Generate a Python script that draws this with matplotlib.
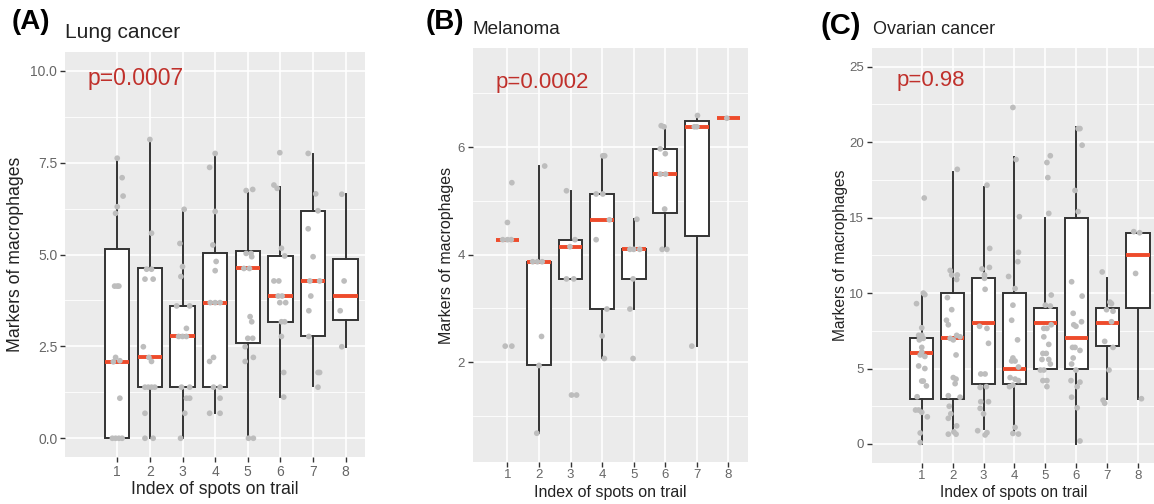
import numpy as np
import matplotlib
matplotlib.use("Agg")
import matplotlib.pyplot as plt
from matplotlib.ticker import FixedLocator

plt.rcParams['font.family'] = ['Liberation Sans', 'DejaVu Sans']

W, H = 1154, 504
groups = [1, 2, 3, 4, 5, 6, 7, 8]

# ---- Panel A: lung cancer ----
A_q1 = [0.0, 1.39, 1.39, 1.39, 2.58, 3.17, 2.77, 3.22]
A_med = [2.08, 2.20, 2.77, 3.69, 4.62, 3.87, 4.28, 3.87]
A_q3 = [5.14, 4.62, 3.60, 5.03, 5.10, 4.96, 6.18, 4.88]
A_lo = [0.0, 0.0, 0.0, 0.68, 0.0, 1.12, 1.41, 2.49]
A_hi = [7.59, 8.12, 6.23, 7.75, 6.66, 6.85, 7.73, 6.64]
A_pts = [
    (1, 0.0, 7.62), (1, 0.15, 7.09), (1, 0.18, 6.59), (1, 0.0, 6.30), (1, -0.05, 6.12),
    (1, -0.08, 4.14), (1, 0.0, 4.14), (1, 0.05, 4.14), (1, -0.05, 2.20), (1, 0.08, 2.11),
    (1, -0.12, 2.08), (1, 0.08, 1.09), (1, -0.15, 0), (1, -0.05, 0), (1, 0.05, 0), (1, 0.15, 0),
    (2, 0.0, 8.13), (2, 0.05, 5.58), (2, -0.1, 4.6), (2, 0.05, 4.6), (2, -0.15, 4.33),
    (2, 0.1, 4.33), (2, -0.2, 2.49), (2, 0.05, 2.09), (2, -0.03, 2.2), (2, -0.15, 1.39),
    (2, -0.05, 1.39), (2, 0.05, 1.39), (2, 0.15, 1.39), (2, -0.15, 0.68), (2, -0.15, 0), (2, 0.1, 0),
    (3, 0.05, 6.23), (3, -0.08, 5.30), (3, 0.0, 4.67), (3, -0.05, 4.40), (3, -0.18, 3.60),
    (3, 0.22, 3.60), (3, 0.12, 2.99), (3, -0.12, 2.77), (3, 0.0, 2.77), (3, 0.12, 2.77),
    (3, -0.03, 1.39), (3, 0.22, 1.39), (3, 0.12, 1.09), (3, 0.22, 1.09), (3, 0.07, 0.68), (3, -0.06, 0),
    (4, 0.0, 7.75), (4, -0.17, 7.37), (4, 0.0, 6.17), (4, -0.07, 5.26), (4, 0.03, 4.81),
    (4, 0.0, 4.56), (4, -0.15, 3.69), (4, 0.0, 3.69), (4, 0.15, 3.69), (4, -0.05, 2.2),
    (4, -0.17, 2.09), (4, -0.05, 1.39), (4, 0.15, 1.39), (4, 0.15, 1.09), (4, -0.17, 0.68), (4, 0.15, 0.68),
    (5, -0.05, 6.74), (5, 0.15, 6.77), (5, -0.05, 5.03), (5, 0.1, 5.03), (5, 0.12, 4.94),
    (5, -0.12, 4.62), (5, 0.05, 4.62), (5, 0.07, 3.31), (5, 0.12, 3.17), (5, 0.0, 2.72),
    (5, 0.15, 2.72), (5, -0.08, 2.49), (5, -0.08, 2.09), (5, 0.17, 2.2), (5, 0.02, 0), (5, 0.17, 0),
    (6, -0.02, 7.77), (6, -0.2, 6.89), (6, -0.1, 6.80), (6, 0.03, 5.17), (6, 0.13, 4.96),
    (6, -0.2, 4.28), (6, -0.05, 4.28), (6, -0.07, 3.87), (6, 0.05, 3.87), (6, -0.02, 3.69),
    (6, 0.16, 3.69), (6, 0.03, 3.17), (6, 0.13, 3.17), (6, 0.03, 2.77), (6, 0.1, 1.79), (6, 0.1, 1.12),
    (7, -0.15, 7.75), (7, 0.08, 6.65), (7, 0.15, 6.19), (7, -0.15, 5.70), (7, 0.0, 4.94),
    (7, -0.1, 4.28), (7, 0.2, 4.28), (7, -0.07, 3.87), (7, -0.13, 3.47), (7, -0.13, 2.77),
    (7, 0.15, 1.79), (7, 0.2, 1.79), (7, 0.15, 1.39),
    (8, -0.12, 6.64), (8, -0.05, 4.28), (8, -0.17, 3.47), (8, -0.12, 2.49),
]

# ---- Panel B: melanoma ----
B_q1 = [4.28, 1.94, 3.55, 2.99, 3.55, 4.78, 4.34, 6.54]
B_med = [4.28, 3.87, 4.15, 4.65, 4.10, 5.50, 6.38, 6.54]
B_q3 = [4.28, 3.87, 4.28, 5.13, 4.10, 5.97, 6.49, 6.54]
B_lo = [4.28, 0.68, 3.55, 2.07, 2.99, 4.10, 2.30, 6.54]
B_hi = [4.28, 5.65, 5.19, 5.84, 4.66, 6.37, 6.58, 6.54]
B_pts = [
    (1, 0.14, 5.34), (1, 0.0, 4.60), (1, -0.15, 4.28), (1, 0.0, 4.28), (1, 0.12, 4.28),
    (1, -0.07, 2.30), (1, 0.14, 2.30),
    (2, 0.18, 5.65), (2, -0.2, 3.87), (2, -0.05, 3.87), (2, 0.1, 3.87), (2, 0.08, 2.48),
    (2, 0.0, 1.94), (2, -0.07, 0.68),
    (3, -0.13, 5.19), (3, 0.14, 4.28), (3, -0.02, 4.15), (3, -0.13, 3.55), (3, 0.1, 3.55),
    (3, 0.03, 1.39), (3, 0.19, 1.39),
    (4, 0.02, 5.84), (4, 0.08, 5.84), (4, -0.19, 5.13), (4, 0.02, 5.13), (4, -0.19, 4.28),
    (4, 0.23, 4.65), (4, 0.15, 2.99), (4, 0.0, 2.49), (4, 0.07, 2.07),
    (5, 0.1, 4.66), (5, -0.12, 4.10), (5, 0.0, 4.10), (5, 0.19, 4.10), (5, -0.02, 3.55),
    (5, -0.12, 2.99), (5, -0.02, 2.07),
    (6, -0.13, 6.40), (6, -0.04, 6.38), (6, -0.16, 5.97), (6, 0.0, 5.88), (6, -0.02, 4.85),
    (6, -0.16, 5.50), (6, 0.01, 5.50), (6, -0.1, 4.10), (6, 0.05, 4.10),
    (7, 0.02, 6.59), (7, -0.08, 6.38), (7, 0.0, 6.38), (7, -0.16, 2.30),
    (8, -0.05, 6.54),
]

# ---- Panel C: ovarian cancer ----
C_q1 = [3.0, 3.0, 4.0, 4.0, 5.0, 5.0, 6.5, 9.0]
C_med = [6.0, 7.0, 8.0, 5.0, 8.0, 7.0, 8.0, 12.5]
C_q3 = [7.0, 10.0, 11.0, 10.0, 9.0, 15.0, 9.0, 14.0]
C_lo = [0.0, 1.0, 1.0, 0.7, 5.0, 0.0, 3.0, 3.0]
C_hi = [10.0, 18.0, 17.0, 19.0, 15.0, 21.0, 11.0, 14.0]
C_pts = [
    (1, 0.08, 16.3), (1, 0.05, 10.0), (1, 0.1, 9.9), (1, -0.17, 9.3), (1, 0.0, 7.7),
    (1, -0.1, 7.2), (1, 0.0, 7.2), (1, 0.05, 7.0), (1, -0.08, 6.9), (1, 0.0, 6.4),
    (1, 0.0, 6.1), (1, -0.05, 5.9), (1, 0.1, 5.8), (1, -0.1, 5.17), (1, 0.1, 5.0),
    (1, 0.0, 4.17), (1, 0.05, 4.17), (1, 0.15, 3.85), (1, -0.15, 3.13), (1, -0.2, 2.25),
    (1, -0.1, 2.25), (1, 0.0, 2.1), (1, 0.18, 1.8), (1, -0.05, 0.73), (1, -0.05, 0.1),
    (2, 0.15, 18.2), (2, -0.08, 11.5), (2, -0.03, 11.2), (2, 0.15, 11.2), (2, 0.13, 10.9),
    (2, -0.17, 9.7), (2, -0.03, 8.9), (2, -0.2, 8.2), (2, -0.14, 7.9), (2, 0.13, 7.2),
    (2, 0.24, 7.1), (2, -0.08, 7.0), (2, 0.02, 6.9), (2, 0.11, 5.9), (2, 0.02, 4.4),
    (2, 0.11, 4.3), (2, 0.08, 4.0), (2, -0.14, 3.2), (2, 0.24, 3.1), (2, -0.11, 2.5),
    (2, -0.06, 2.0), (2, -0.14, 1.7), (2, 0.13, 1.2), (2, 0.04, 0.8), (2, -0.14, 0.65), (2, 0.11, 0.65),
    (3, 0.11, 17.15), (3, 0.2, 12.96), (3, -0.05, 11.6), (3, 0.03, 11.2), (3, 0.19, 11.7),
    (3, 0.03, 10.98), (3, 0.05, 10.25), (3, -0.13, 7.8), (3, 0.11, 7.66), (3, 0.16, 6.67),
    (3, -0.09, 4.64), (3, 0.05, 4.64), (3, -0.11, 3.75), (3, 0.09, 3.8), (3, -0.09, 2.8),
    (3, 0.16, 2.8), (3, -0.11, 2.36), (3, 0.0, 2.0), (3, -0.19, 0.88), (3, 0.11, 0.75), (3, 0.05, 0.6),
    (4, -0.05, 22.3), (4, 0.05, 18.85), (4, 0.16, 15.06), (4, 0.13, 12.7), (4, 0.11, 12.08),
    (4, -0.19, 11.1), (4, 0.02, 10.3), (4, -0.05, 9.2), (4, -0.09, 8.2), (4, 0.1, 6.9),
    (4, -0.05, 5.7), (4, 0.02, 5.5), (4, -0.09, 5.5), (4, 0.13, 5.1), (4, -0.14, 4.4),
    (4, 0.02, 4.3), (4, 0.13, 4.2), (4, -0.05, 3.9), (4, -0.16, 3.8), (4, 0.02, 1.1),
    (4, -0.05, 0.7), (4, 0.13, 0.66),
    (5, 0.16, 19.1), (5, 0.05, 18.65), (5, 0.08, 17.65), (5, 0.11, 15.28), (5, 0.19, 9.87),
    (5, 0.0, 9.2), (5, 0.16, 9.14), (5, 0.19, 7.9), (5, -0.05, 7.66), (5, 0.05, 7.66),
    (5, -0.05, 7.1), (5, 0.11, 6.6), (5, -0.08, 6.0), (5, 0.03, 6.0), (5, -0.11, 5.6),
    (5, 0.11, 5.6), (5, 0.16, 5.3), (5, -0.16, 4.9), (5, -0.05, 4.9), (5, -0.08, 4.2),
    (5, 0.05, 4.2), (5, 0.05, 3.8),
    (6, 0.06, 20.9), (6, 0.12, 20.9), (6, 0.19, 19.8), (6, -0.04, 16.8), (6, 0.06, 15.4),
    (6, -0.15, 10.75), (6, 0.19, 9.8), (6, -0.1, 8.66), (6, 0.17, 8.1), (6, -0.08, 7.9),
    (6, -0.01, 7.8), (6, -0.12, 6.4), (6, -0.04, 6.4), (6, 0.12, 6.2), (6, -0.1, 5.7),
    (6, -0.15, 5.3), (6, -0.01, 4.9), (6, -0.17, 4.2), (6, 0.12, 4.1), (6, 0.03, 3.8),
    (6, -0.15, 3.1), (6, 0.03, 2.4), (6, 0.12, 0.2),
    (7, -0.16, 11.4), (7, 0.09, 9.4), (7, 0.14, 9.3), (7, -0.02, 8.9), (7, 0.19, 8.8),
    (7, 0.14, 8.1), (7, -0.08, 6.8), (7, 0.19, 6.4), (7, 0.06, 4.9), (7, -0.13, 2.9), (7, -0.08, 2.7),
    (8, -0.14, 14.07), (8, 0.05, 14.0), (8, -0.08, 11.3), (8, 0.11, 3.0),
]

GRAY_BG = '#EBEBEB'
BOX_EDGE = '#333333'
MED_RED = '#EE4B2B'
PT_GRAY = '#BDBDBD'
P_RED = '#C0302B'
TICK_GRAY = '#666666'


def px(x, y):
    return x / W, 1 - y / H


fig = plt.figure(figsize=(W / 100, H / 100), dpi=100)


def panel(rect, q1, med, q3, lo, hi, pts, xlim, ylim, yticks, yticklabels, yminor,
          ptext, ppos, psize, fs_tick, fs_lab, ylab_x, xlab_y):
    l, t, r, b = rect
    ax = fig.add_axes([l / W, 1 - b / H, (r - l) / W, (b - t) / H])
    ax.set_facecolor(GRAY_BG)
    stats = [dict(med=m, q1=a, q3=c, whislo=w0, whishi=w1, fliers=[])
             for m, a, c, w0, w1 in zip(med, q1, q3, lo, hi)]
    ax.bxp(stats, positions=groups, widths=0.75, showcaps=False, showfliers=False,
           patch_artist=True,
           boxprops=dict(facecolor='white', edgecolor=BOX_EDGE, linewidth=1.4),
           whiskerprops=dict(color=BOX_EDGE, linewidth=1.4),
           medianprops=dict(color=MED_RED, linewidth=2.8, solid_capstyle='butt'),
           zorder=2)
    gx = np.array([p[0] for p in pts]) + np.array([p[1] for p in pts])
    gy = np.array([p[2] for p in pts])
    ax.scatter(gx, gy, s=17, color=PT_GRAY, edgecolors='none', zorder=4)
    ax.set_xlim(*xlim)
    ax.set_ylim(*ylim)
    ax.set_xticks(groups)
    ax.set_xticklabels([str(g) for g in groups])
    ax.set_yticks(yticks)
    ax.set_yticklabels(yticklabels)
    ax.yaxis.set_minor_locator(FixedLocator(yminor))
    ax.tick_params(which='minor', length=0)
    ax.tick_params(which='major', length=3.5, width=1, color=BOX_EDGE,
                   labelcolor=TICK_GRAY, labelsize=fs_tick, pad=2)
    ax.grid(which='major', color='white', linewidth=1.2, zorder=0)
    ax.grid(which='minor', axis='y', color='white', linewidth=0.6, zorder=0)
    ax.set_axisbelow(True)
    for s in ax.spines.values():
        s.set_visible(False)
    ax.text(ppos[0], ppos[1], ptext, color=P_RED, fontsize=psize, va='center', ha='left')
    ax.set_ylabel('Markers of macrophages', fontsize=fs_lab, color='#222222')
    ax.yaxis.set_label_coords(ylab_x / W, 1 - (t + b) / 2 / H, transform=fig.transFigure)
    ax.set_xlabel('Index of spots on trail', fontsize=fs_lab, color='#222222')
    ax.xaxis.set_label_coords((l + r) / 2 / W, 1 - xlab_y / H, transform=fig.transFigure)
    ax.xaxis.label.set_va('center')
    ax.yaxis.label.set_va('center')
    return ax


axA = panel((65, 52, 365, 457), A_q1, A_med, A_q3, A_lo, A_hi, A_pts,
            (-0.6, 8.59), (-0.51, 10.51), [0, 2.5, 5, 7.5, 10],
            ['0.0', '2.5', '5.0', '7.5', '10.0'], [1.25, 3.75, 6.25, 8.75],
            'p=0.0007', (0.1, 9.8), 16.5, 10, 12.7, 15.5, 490)
axB = panel((472.7, 48.3, 747.7, 461.7), B_q1, B_med, B_q3, B_lo, B_hi, B_pts,
            (-0.1, 8.61), (0.15, 7.84), [2, 4, 6], ['2', '4', '6'], [1, 3, 5, 7],
            'p=0.0002', (0.61, 7.21), 16, 9.5, 11.5, 447, 492)
axC = panel((871.7, 48.3, 871.7 + 9.22 * 30.9, 462.7), C_q1, C_med, C_q3, C_lo, C_hi, C_pts,
            (-0.62, 8.6), (-1.24, 26.22), [0, 5, 10, 15, 20, 25],
            ['0', '5', '10', '15', '20', '25'], [2.5, 7.5, 12.5, 17.5, 22.5],
            'p=0.98', (0.17, 24.1), 16, 9.5, 11.2, 840, 492)

# panel letters and titles
for lab, tx, ty, fs in [('(A)', 12, 22, 20), ('(B)', 426, 22, 20), ('(C)', 820, 26, 21)]:
    fig.text(*px(tx, ty), lab, fontsize=fs, fontweight='bold', va='center', ha='left')
for ttl, tx, ty, fs in [('Lung cancer', 65, 33, 15), ('Melanoma', 473, 30, 13.6),
                        ('Ovarian cancer', 873, 30, 13)]:
    fig.text(*px(tx, ty), ttl, fontsize=fs, va='center', ha='left', color='#222222')

fig.savefig('out.png', dpi=100, facecolor='white')
